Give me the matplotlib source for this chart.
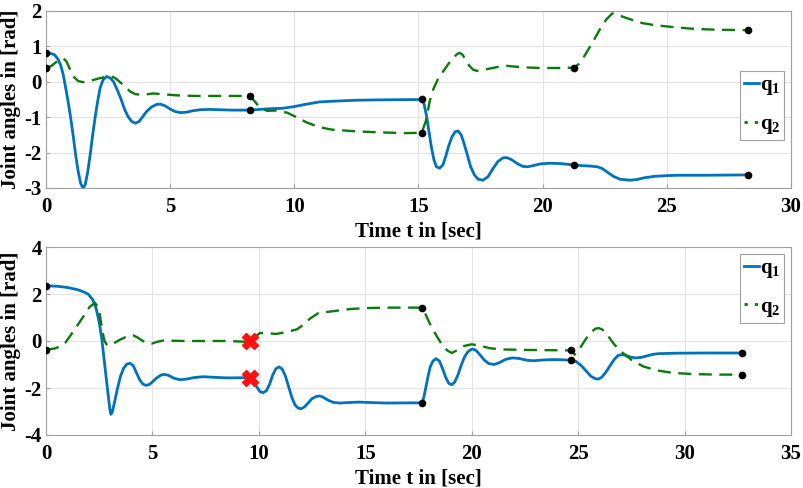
import matplotlib
matplotlib.use("Agg")
import matplotlib.pyplot as plt
from matplotlib.lines import Line2D

# ---------------- data ----------------
t1_q1 = [0, 0.2, 0.35, 0.5, 0.6, 0.7, 0.8, 0.9, 1.0, 1.1, 1.2, 1.3, 1.4, 1.49, 1.58, 1.68, 1.78,
         1.88, 1.98, 2.08, 2.18, 2.3, 2.45, 2.6, 2.72, 2.85, 3.0, 3.15, 3.3, 3.45, 3.6, 3.75, 3.9,
         4.05, 4.25, 4.45, 4.6, 4.8, 5.0, 5.2, 5.4, 5.65, 5.9, 6.2, 6.6, 7.0, 7.5, 8.0, 8.22,
         8.6, 9.0, 9.5, 10.0, 10.5, 11.0, 11.5, 12.5, 13.5, 15.13, 15.22, 15.32, 15.42, 15.52,
         15.62, 15.72, 15.85, 15.98, 16.1, 16.22, 16.35, 16.48, 16.6, 16.72, 16.85, 16.98, 17.1,
         17.25, 17.4, 17.6, 17.8, 18.0, 18.2, 18.4, 18.55, 18.75, 19.0, 19.2, 19.4, 19.6, 19.9,
         20.3, 20.7, 21.0, 21.27, 21.6, 21.9, 22.2, 22.4, 22.6, 22.85, 23.1, 23.5, 23.8, 24.1,
         24.5, 25.0, 25.5, 26.5, 28.26]
y1_q1 = [0.80, 0.80, 0.76, 0.62, 0.45, 0.18, -0.20, -0.60, -1.05, -1.55, -2.10, -2.55, -2.88,
         -3.00, -2.90, -2.55, -2.05, -1.50, -1.00, -0.55, -0.17, 0.06, 0.15, 0.10, 0.00, -0.20,
         -0.45, -0.75, -0.98, -1.12, -1.17, -1.12, -0.98, -0.84, -0.71, -0.64, -0.63, -0.68,
         -0.77, -0.84, -0.87, -0.86, -0.82, -0.79, -0.78, -0.79, -0.80, -0.80, -0.80, -0.78,
         -0.76, -0.75, -0.70, -0.63, -0.57, -0.55, -0.52, -0.51, -0.50, -0.62, -0.95, -1.40,
         -1.85, -2.20, -2.40, -2.44, -2.35, -2.10, -1.80, -1.55, -1.41, -1.39, -1.50, -1.78,
         -2.10, -2.40, -2.63, -2.75, -2.78, -2.68, -2.45, -2.25, -2.15, -2.14, -2.20, -2.32,
         -2.39, -2.40, -2.37, -2.32, -2.30, -2.31, -2.33, -2.35, -2.37, -2.38, -2.40, -2.45,
         -2.55, -2.67, -2.75, -2.78, -2.76, -2.71, -2.67, -2.65, -2.64, -2.64, -2.63]

t1_q2 = [0, 0.2, 0.4, 0.55, 0.7, 0.82, 0.95, 1.1, 1.3, 1.5, 1.8, 2.1, 2.4, 2.6, 2.8, 3.0, 3.2,
         3.4, 3.6, 3.9, 4.3, 4.7, 5.2, 6.0, 7.0, 8.22, 8.4, 8.6, 8.9, 9.3, 9.7, 10.0, 10.5, 11.0,
         11.5, 12.5, 13.5, 14.5, 15.13, 15.3, 15.45, 15.6, 15.8, 16.0, 16.2, 16.4, 16.55, 16.65,
         16.78, 16.92, 17.05, 17.2, 17.35, 17.7, 18.2, 18.55, 19.2, 19.9, 20.6, 21.27, 21.45,
         21.7, 22.0, 22.3, 22.55, 22.8, 23.0, 23.3, 23.6, 24.0, 24.5, 25.2, 26.0, 27.0, 28.26]
y1_q2 = [0.40, 0.44, 0.55, 0.64, 0.66, 0.58, 0.38, 0.15, 0.02, -0.01, 0.03, 0.09, 0.14, 0.16,
         0.10, -0.02, -0.15, -0.28, -0.35, -0.37, -0.33, -0.35, -0.38, -0.40, -0.40, -0.40,
         -0.55, -0.72, -0.82, -0.81, -0.87, -0.97, -1.15, -1.28, -1.35, -1.40, -1.43, -1.45,
         -1.44, -1.10, -0.55, -0.20, 0.10, 0.30, 0.50, 0.68, 0.78, 0.82, 0.76, 0.60, 0.45, 0.34,
         0.31, 0.35, 0.42, 0.45, 0.41, 0.39, 0.39, 0.40, 0.50, 0.75, 1.10, 1.48, 1.75, 1.93,
         1.90, 1.82, 1.75, 1.66, 1.60, 1.55, 1.50, 1.47, 1.46]

t2_q1 = [0, 0.5, 1.0, 1.5, 1.8, 2.0, 2.2, 2.35, 2.5, 2.62, 2.72, 2.82, 2.92, 3.0, 3.05, 3.12,
         3.22, 3.35, 3.5, 3.65, 3.8, 3.95, 4.1, 4.25, 4.4, 4.55, 4.7, 4.85, 5.0, 5.2, 5.4, 5.55,
         5.75, 6.0, 6.3, 6.6, 7.0, 7.4, 7.8, 8.5, 9.6, 9.75, 9.9, 10.05, 10.2, 10.35, 10.5, 10.65,
         10.8, 10.95, 11.1, 11.25, 11.4, 11.55, 11.7, 11.85, 12.0, 12.15, 12.3, 12.5, 12.7, 12.85,
         13.0, 13.25, 13.5, 13.8, 14.2, 14.7, 15.3, 16.0, 17.66, 17.75, 17.85, 17.95, 18.05,
         18.18, 18.33, 18.48, 18.62, 18.78, 18.92, 19.06, 19.2, 19.35, 19.5, 19.65, 19.8, 19.95,
         20.05, 20.2, 20.4, 20.6, 20.8, 21.06, 21.3, 21.6, 21.9, 22.2, 22.6, 22.9, 23.3, 23.8,
         24.3, 24.66, 24.9, 25.15, 25.4, 25.6, 25.8, 25.94, 26.1, 26.3, 26.5, 26.7, 26.87, 27.03,
         27.2, 27.45, 27.7, 27.95, 28.2, 28.5, 28.75, 29.5, 31.0, 32.7]
y2_q1 = [2.35, 2.33, 2.28, 2.18, 2.08, 1.98, 1.75, 1.40, 0.80, 0.10, -0.70, -1.50, -2.30, -2.90,
         -3.12, -3.00, -2.60, -2.05, -1.50, -1.15, -0.98, -0.95, -1.05, -1.35, -1.65, -1.83,
         -1.89, -1.85, -1.74, -1.57, -1.45, -1.42, -1.46, -1.58, -1.65, -1.62, -1.55, -1.52,
         -1.54, -1.57, -1.56, -1.70, -1.95, -2.15, -2.20, -2.12, -1.85, -1.45, -1.18, -1.10,
         -1.20, -1.50, -1.95, -2.40, -2.72, -2.86, -2.88, -2.80, -2.65, -2.45, -2.36, -2.34,
         -2.38, -2.52, -2.61, -2.64, -2.62, -2.60, -2.62, -2.64, -2.63, -2.40, -1.95, -1.50,
         -1.10, -0.85, -0.75, -0.85, -1.15, -1.55, -1.80, -1.86, -1.75, -1.45, -1.05, -0.70,
         -0.48, -0.37, -0.34, -0.40, -0.60, -0.82, -0.96, -1.00, -0.92, -0.78, -0.72, -0.74,
         -0.82, -0.84, -0.81, -0.79, -0.80, -0.82, -0.87, -1.05, -1.30, -1.50, -1.60, -1.62,
         -1.55, -1.33, -1.05, -0.78, -0.62, -0.58, -0.60, -0.68, -0.72, -0.70, -0.64, -0.57,
         -0.54, -0.52, -0.51, -0.51]

t2_q2 = [0, 0.4, 0.7, 0.9, 1.2, 1.5, 1.8, 2.05, 2.3, 2.45, 2.55, 2.65, 2.75, 2.85, 2.95, 3.15,
         3.4, 3.7, 3.95, 4.1, 4.3, 4.55, 4.8, 4.97, 5.2, 5.5, 6.0, 6.5, 7.5, 8.5, 9.6, 9.8, 10.05,
         10.4, 10.8, 11.3, 11.8, 12.1, 12.4, 12.8, 13.5, 14.3, 15.0, 16.0, 17.66, 17.85, 18.1,
         18.36, 18.6, 18.85, 19.06, 19.3, 19.6, 20.0, 20.4, 20.86, 21.5, 22.5, 23.5, 24.66,
         24.84, 25.05, 25.3, 25.55, 25.8, 25.97, 26.15, 26.4, 26.7, 27.1, 27.5, 28.05, 28.7,
         29.45, 30.5, 31.5, 32.7]
y2_q2 = [-0.37, -0.32, -0.22, -0.08, 0.30, 0.70, 1.10, 1.45, 1.62, 1.45, 1.00, 0.40, 0.00,
         -0.15, -0.20, -0.12, 0.02, 0.15, 0.23, 0.24, 0.15, 0.00, -0.10, -0.11, -0.04, 0.02,
         0.01, 0.00, 0.00, 0.00, -0.04, 0.15, 0.34, 0.33, 0.30, 0.38, 0.50, 0.70, 0.95, 1.19,
         1.27, 1.36, 1.40, 1.42, 1.42, 1.10, 0.60, 0.20, -0.15, -0.40, -0.51, -0.40, -0.22,
         -0.14, -0.20, -0.31, -0.36, -0.38, -0.39, -0.40, -0.58, -0.35, 0.00, 0.32, 0.52, 0.55,
         0.48, 0.22, -0.15, -0.51, -0.80, -1.08, -1.25, -1.36, -1.41, -1.43, -1.43]

# via points (black dots)
dots1_t = [0, 8.22, 15.13, 21.27, 28.26]
dots1_q1 = [0.80, -0.80, -0.50, -2.35, -2.63]
dots1_q2 = [0.40, -0.40, -1.44, 0.40, 1.46]
dots2_t = [0, 17.66, 24.66, 32.7]
dots2_q1 = [2.35, -2.63, -0.82, -0.51]
dots2_q2 = [-0.37, 1.42, -0.40, -1.43]
# switching point (red crosses)
cross_t = [9.6, 9.6]
cross_y = [-1.56, -0.02]

xticks1 = [0, 5, 10, 15, 20, 25, 30]
yticks1 = [-3, -2, -1, 0, 1, 2]
xticks2 = [0, 5, 10, 15, 20, 25, 30, 35]
yticks2 = [-4, -2, 0, 2, 4]
xlabel = "Time t in [sec]"
ylabel = "Joint angles in [rad]"
labels = [r"q$_\mathrm{1}$", r"q$_\mathrm{2}$"]

# ---------------- style ----------------
plt.rcParams['font.family'] = ['Liberation Serif', 'DejaVu Serif']
plt.rcParams['font.weight'] = 'bold'
plt.rcParams['mathtext.fontset'] = 'custom'
plt.rcParams['mathtext.rm'] = 'Liberation Serif:bold'
plt.rcParams['mathtext.it'] = 'Liberation Serif:bold'
plt.rcParams['mathtext.bf'] = 'Liberation Serif:bold'
plt.rcParams['axes.unicode_minus'] = False

BLUE = '#0072BD'
GREEN = '#0B7A0B'
FS = 15

fig = plt.figure(figsize=(8.04, 4.88), dpi=100)
ax1 = fig.add_axes([46/804, 1-188/488, 745/804, 177/488])
ax2 = fig.add_axes([46/804, 1-435/488, 745/804, 188/488])


def style(ax, xt, yt, xl, yl):
    ax.set_xlim(*xl)
    ax.set_ylim(*yl)
    ax.set_xticks(xt)
    ax.set_yticks(yt)
    ax.set_xticklabels([str(v) for v in xt], fontsize=FS, fontweight='bold')
    ax.set_yticklabels([str(v) for v in yt], fontsize=FS, fontweight='bold')
    ax.grid(True, color='#e3e3e3', linewidth=0.8)
    ax.set_axisbelow(True)
    for s in ax.spines.values():
        s.set_color('#a0a0a0')
        s.set_linewidth(0.8)
    ax.tick_params(direction='in', length=3, color='#a0a0a0')
    ax.tick_params(axis='x', pad=6.5)
    ax.tick_params(axis='y', pad=3)
    ax.set_xlabel(xlabel, fontsize=FS, fontweight='bold', labelpad=3)
    ax.set_ylabel(ylabel, fontsize=FS, fontweight='bold')
    ax.yaxis.set_label_coords(-0.034, 0.5)


def draw(ax, tq1, yq1, tq2, yq2, dt, dq1, dq2):
    ax.plot(tq1, yq1, color=BLUE, lw=2.0, zorder=3)
    ax.plot(tq2, yq2, color=GREEN, lw=1.7, dashes=(5.5, 3.2), zorder=3)
    ax.plot(dt, dq1, 'o', color='black', ms=4.5, zorder=5)
    ax.plot(dt, dq2, 'o', color='black', ms=4.5, zorder=5)


draw(ax1, t1_q1, y1_q1, t1_q2, y1_q2, dots1_t, dots1_q1, dots1_q2)
draw(ax2, t2_q1, y2_q1, t2_q2, y2_q2, dots2_t, dots2_q1, dots2_q2)
ax2.plot(cross_t, cross_y, 'X', color='#ff1010', ms=11, zorder=6)

style(ax1, xticks1, yticks1, (0, 30), (-3, 2))
style(ax2, xticks2, yticks2, (0, 35), (-4, 4))

handles = [Line2D([], [], color=BLUE, lw=2.0),
           Line2D([], [], color=GREEN, lw=2.0, dashes=(1.2, 2.5))]
for ax, anchor in ((ax1, (0.991, 0.661)), (ax2, (0.991, 0.963))):
    leg = ax.legend(handles, labels, loc='upper right', bbox_to_anchor=anchor,
                    borderaxespad=0, fancybox=False, framealpha=1,
                    handlelength=0.7, handletextpad=0.05, borderpad=0.2,
                    labelspacing=0.8, prop={'family': 'Liberation Serif', 'weight': 'bold', 'size': FS})
    leg.get_frame().set_edgecolor('#a0a0a0')
    leg.get_frame().set_linewidth(0.8)

fig.savefig('out.png', dpi=100)
